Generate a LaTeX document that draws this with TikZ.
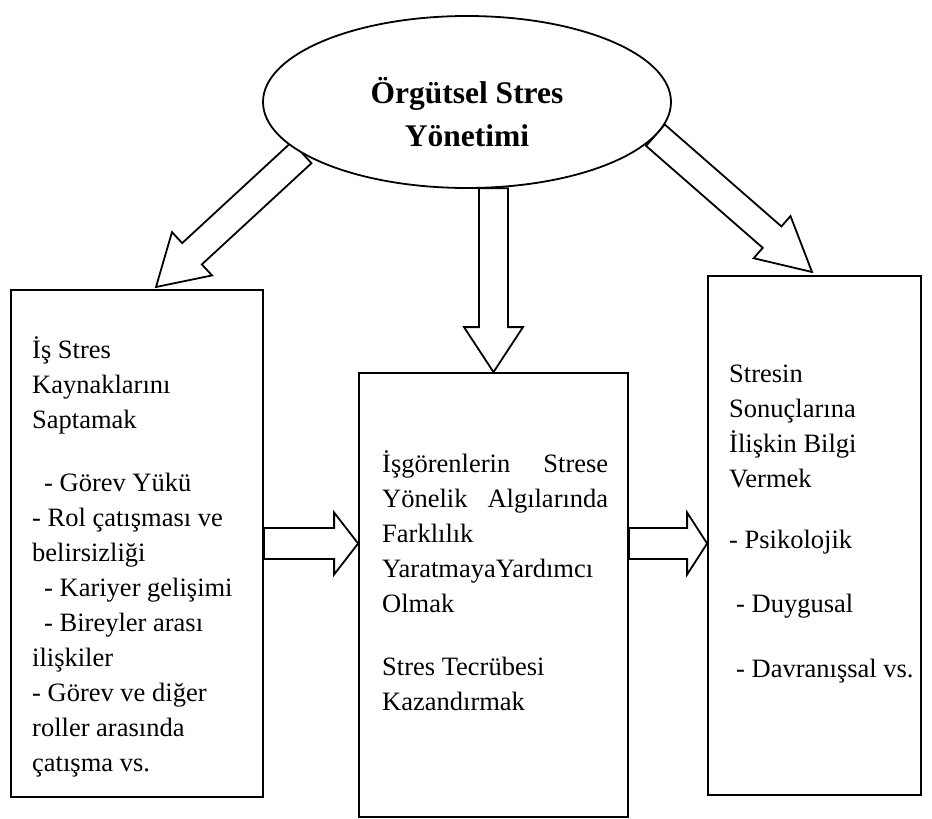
\documentclass[tikz,border=0pt]{standalone}
\usepackage{fontspec}
\setmainfont{Liberation Serif}
\usetikzlibrary{calc,shapes.geometric}

\tikzset{
  boxframe/.style={draw, line width=1.8pt, fill=white, inner sep=0pt},
  arrowshape/.style={draw, line width=1.8pt, fill=white, line join=miter},
  bodytext/.style={anchor=base west, inner sep=0pt, font=\fontsize{26.5}{35}\selectfont},
  titletext/.style={anchor=base, inner sep=0pt, font=\fontsize{31.5}{44}\selectfont\bfseries},
}

% hollow block arrow: start, tip, half shaft, half head, head length
\newcommand{\blockarrow}[5]{%
  \draw[arrowshape] ($(#1)!#3!90:(#2)$)
    -- ($(#2)!#5!(#1)!#3!-90:(#1)$)
    -- ($(#2)!#5!(#1)!#4!-90:(#1)$)
    -- (#2)
    -- ($(#2)!#5!(#1)!#4!90:(#1)$)
    -- ($(#2)!#5!(#1)!#3!90:(#1)$)
    -- ($(#1)!#3!-90:(#2)$) -- cycle;}

\begin{document}
\begin{tikzpicture}[x=1pt,y=-1pt]
\useasboundingbox (0,0) rectangle (932,819);

% the three boxes
\node[boxframe, minimum width=252pt, minimum height=507pt] (leftbox) at (137,543.5) {};
\node[boxframe, minimum width=269pt, minimum height=444pt] (midbox) at (493.5,595) {};
\node[boxframe, minimum width=213pt, minimum height=519pt] (rightbox) at (814.5,535.5) {};

% left box text
\foreach \x/\y/\t in {32/358/{İş Stres}, 32/393/{Kaynaklarını}, 32/428/{Saptamak},
    44/491/{- Görev Yükü}, 32/526/{- Rol çatışması ve}, 32/561/{belirsizliği},
    44/596/{- Kariyer gelişimi}, 44/631/{- Bireyler arası}, 32/666/{ilişkiler},
    32/701/{- Görev ve diğer}, 32/736/{roller arasında}, 32/771/{çatışma vs.}}
  \node[bodytext] (ltxt\y) at (\x,\y) {\t};

% middle box text
\foreach \y/\t in {472/{\makebox[226pt][s]{İşgörenlerin Strese}},
    507/{\makebox[226pt][s]{Yönelik Algılarında}}, 542/{Farklılık},
    577/{YaratmayaYardımcı}, 612/{Olmak}, 675/{Stres Tecrübesi}, 710/{Kazandırmak}}
  \node[bodytext] (mtxt\y) at (382,\y) {\t};

% right box text
\foreach \x/\y/\t in {729/382/{Stresin}, 729/417/{Sonuçlarına}, 729/452/{İlişkin Bilgi},
    729/487/{Vermek}, 729/548/{- Psikolojik}, 736/612/{- Duygusal},
    736/677/{- Davranışsal vs.}}
  \node[bodytext] (rtxt\y) at (\x,\y) {\t};

% arrows from the ellipse
\node[ellipse, minimum width=408pt, minimum height=172pt, inner sep=0pt] (title) at (467,102) {};
\coordinate (ltip) at (156,287);
\coordinate (rtip) at (812,272);
\coordinate (mstart) at (midbox.north |- title.south);
\blockarrow{title.197}{ltip}{14.5pt}{29.5pt}{49pt}
\blockarrow{mstart}{midbox.north}{14.5pt}{29.5pt}{45pt}
\blockarrow{title.-10}{rtip}{14.2pt}{28pt}{53pt}

% arrows between the boxes
\coordinate (harrow1) at (leftbox.east -| midbox.west);
\coordinate (hstart2) at (leftbox.east -| midbox.east);
\coordinate (harrow2) at (leftbox.east -| rightbox.west);
\blockarrow{leftbox.east}{harrow1}{15.5pt}{31pt}{24pt}
\blockarrow{hstart2}{harrow2}{15.5pt}{31pt}{20pt}

% ellipse on top
\node[ellipse, draw, line width=1.8pt, fill=white, minimum width=408pt, minimum height=172pt, inner sep=0pt] at (title) {};
\node[titletext] (title1) at (467,103) {Örgütsel Stres};
\node[titletext] (title2) at (467,146) {Yönetimi};
\end{tikzpicture}
\end{document}
